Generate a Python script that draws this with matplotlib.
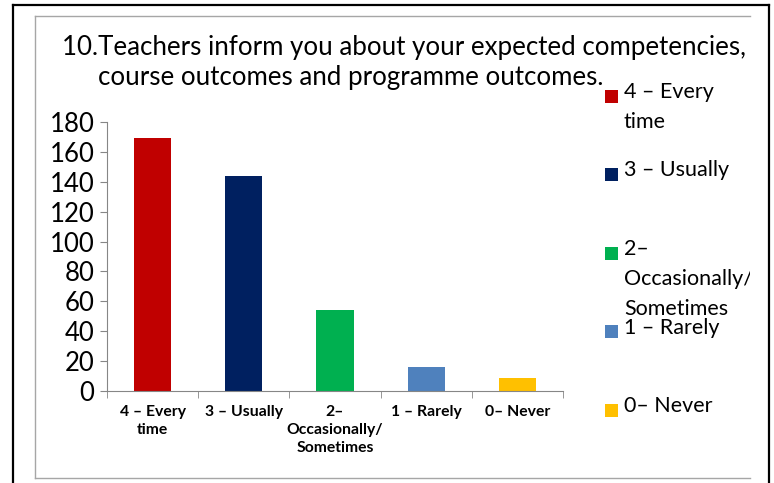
import matplotlib.pyplot as plt
from matplotlib.patches import Rectangle
from matplotlib.lines import Line2D
from matplotlib.transforms import Bbox

plt.rcParams['font.family'] = ['Lato', 'DejaVu Sans']

# data
categories = ["4 – Every\ntime", "3 – Usually", "2–\nOccasionally/\nSometimes",
              "1 – Rarely", "0– Never"]
counts = [169, 144, 54, 16, 9]
colors = ["#C00000", "#002060", "#00B050", "#4F81BD", "#FFC000"]
title_l1 = "10.Teachers inform you about your expected competencies,"
title_l2 = "course outcomes and programme outcomes."

W, H = 774, 483
fig = plt.figure(figsize=(W / 100, H / 100), dpi=100)

def fx(px):
    return px / W

def fy(py):
    return 1 - py / H

# outer black frame and grey chart-area frame
fig.add_artist(Line2D([fx(13), fx(13)], [0, fy(5)], color="black", lw=1.6))
fig.add_artist(Line2D([fx(13), fx(769)], [fy(5), fy(5)], color="black", lw=1.6))
fig.add_artist(Line2D([fx(769), fx(769)], [0, fy(5)], color="black", lw=1.6))
gray = "#a6a6a6"
fig.add_artist(Line2D([fx(35), fx(750)], [fy(16), fy(16)], color=gray, lw=1.0))
fig.add_artist(Line2D([fx(35), fx(35)], [fy(16), fy(478)], color=gray, lw=1.0))
fig.add_artist(Line2D([fx(35), fx(750)], [fy(478), fy(478)], color=gray, lw=1.0))

# title (numbered, hanging indent)
fig.text(fx(62), fy(47), title_l1, fontsize=18.6, va="center", ha="left")
fig.text(fx(98), fy(77), title_l2, fontsize=18.6, va="center", ha="left")

ax = fig.add_axes([fx(107), fy(391), fx(563) - fx(107), fy(122) - fy(391)])
x = list(range(len(counts)))
ax.bar(x, counts, width=0.41, color=colors)
ax.set_xlim(-0.5, len(counts) - 0.5)
ax.set_ylim(0, 180)
ax.set_yticks(range(0, 181, 20))
ax.tick_params(axis="y", labelsize=18.5, length=5, color="#868686", pad=4)
ax.set_xticks(x)
ax.set_xticklabels(categories, fontsize=11.3, fontweight="bold", linespacing=1.35)
ax.tick_params(axis="x", length=0, pad=10)
ax.set_xticks([i - 0.5 for i in range(len(counts) + 1)], minor=True)
ax.tick_params(axis="x", which="minor", length=5, color="#868686")
for s in ["top", "right"]:
    ax.spines[s].set_visible(False)
ax.spines["left"].set_color("#868686")
ax.spines["bottom"].set_color("#868686")

# legend, drawn entry by entry (Excel-style fixed spacing)
clip = Bbox([[0, 0], [750, H]])
for i, (lab, col) in enumerate(zip(categories, colors)):
    yc = 96 + i * 78.5
    fig.add_artist(Rectangle((fx(605), fy(yc + 6.5)), fx(13), 13 / H,
                             color=col, lw=0))
    t = fig.text(fx(624), fy(yc - 14), lab, fontsize=15.5, va="top", ha="left",
                 linespacing=1.63)
    t.set_clip_on(True)
    t.set_clip_box(clip)

fig.savefig("out.png", dpi=100)
